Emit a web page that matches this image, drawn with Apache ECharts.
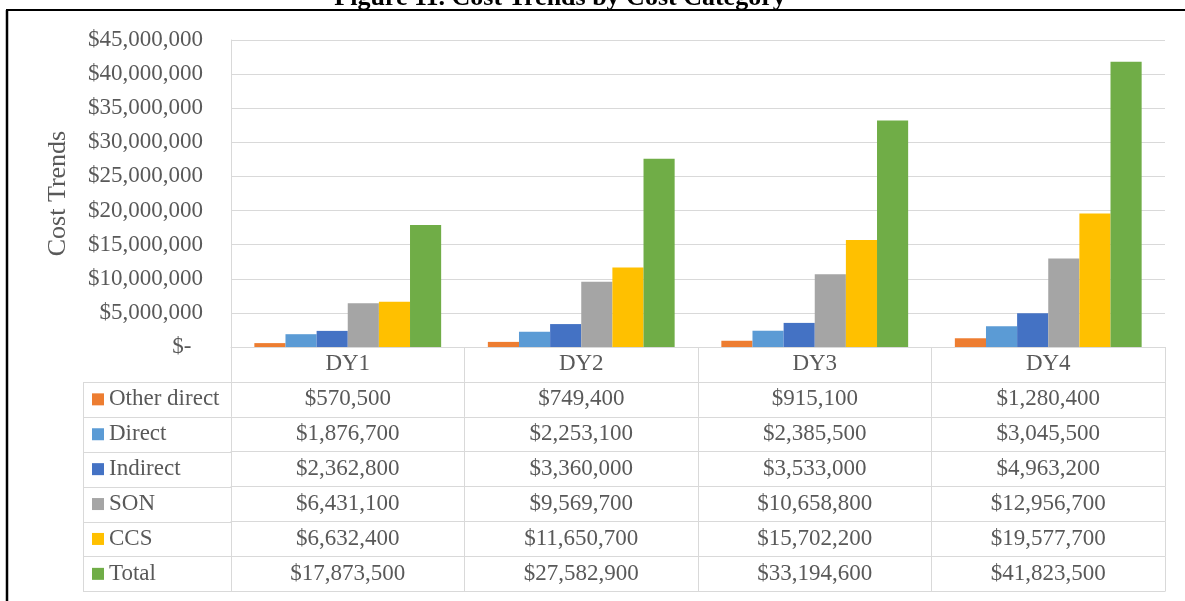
<!DOCTYPE html>
<html>
<head>
    <meta charset="UTF-8">
    <title>Cost Trends by Cost Category</title>
    <script src="https://cdn.jsdelivr.net/npm/echarts@6/dist/echarts.min.js"></script>
    <style>
        html, body { margin: 0; padding: 0; background: #fff; }
    </style>
</head>
<body>
<div id="chart" style="width:1185px; height:601px;"></div>
<script>
    // data
    var categories = ['DY1', 'DY2', 'DY3', 'DY4'];
    var seriesNames = ['Other direct', 'Direct', 'Indirect', 'SON', 'CCS', 'Total'];
    var otherDirect = [570500, 749400, 915100, 1280400];
    var direct = [1876700, 2253100, 2385500, 3045500];
    var indirect = [2362800, 3360000, 3533000, 4963200];
    var son = [6431100, 9569700, 10658800, 12956700];
    var ccs = [6632400, 11650700, 15702200, 19577700];
    var total = [17873500, 27582900, 33194600, 41823500];
    var yMin = 0, yMax = 45000000, yStep = 5000000;

    var seriesData = [otherDirect, direct, indirect, son, ccs, total];
    var colors = ['#ED7D31', '#5B9BD5', '#4472C4', '#A5A5A5', '#FFC000', '#70AD47'];

    // layout
    var GRID_LEFT = 231, GRID_RIGHT = 1165, GRID_TOP = 40, AXIS_Y = 347;
    var ROW_H = 34.9, TABLE_LEFT = 83;
    var FONT = 'Liberation Serif';
    var FS = 23;
    var GREY = '#595959', LINE = '#d9d9d9';

    function money(v) {
        if (v === 0) return '$-  ';
        return '$' + v.toLocaleString('en-US');
    }

    var labelStyle = {
        fontFamily: FONT, fontSize: FS, lineHeight: FS, color: GREY,
        margin: (ROW_H - FS) / 2, interval: 0
    };

    // main category axis + one axis per table row
    var xAxes = [{
        type: 'category',
        data: categories,
        axisLine: {lineStyle: {color: LINE, width: 1}},
        axisTick: {show: true, interval: 0, length: ROW_H, lineStyle: {color: LINE}},
        axisLabel: labelStyle
    }];
    seriesData.forEach(function (arr, i) {
        xAxes.push({
            type: 'category',
            gridIndex: 0,
            position: 'bottom',
            offset: ROW_H * (i + 1),
            data: arr.map(money),
            axisLine: {show: true, lineStyle: {color: LINE, width: 1}},
            axisTick: {show: true, interval: 0, length: ROW_H, lineStyle: {color: LINE}},
            axisLabel: labelStyle
        });
    });
    // closing line under the table
    xAxes.push({
        type: 'category',
        gridIndex: 0,
        position: 'bottom',
        offset: ROW_H * (seriesData.length + 1),
        data: categories.map(function () { return ''; }),
        axisLine: {show: true, lineStyle: {color: LINE, width: 1}},
        axisTick: {show: false},
        axisLabel: {show: false}
    });

    // left column borders of the data table
    var graphics = [];
    for (var k = 1; k <= seriesData.length + 1; k++) {
        var yy = Math.round(AXIS_Y + ROW_H * k) + 0.5;
        graphics.push({
            type: 'line', silent: true,
            shape: {x1: TABLE_LEFT, y1: yy, x2: GRID_LEFT, y2: yy},
            style: {stroke: LINE, lineWidth: 1}
        });
    }
    graphics.push({
        type: 'line', silent: true,
        shape: {
            x1: TABLE_LEFT + 0.5, y1: Math.round(AXIS_Y + ROW_H) + 0.5,
            x2: TABLE_LEFT + 0.5, y2: Math.round(AXIS_Y + ROW_H * 7) + 0.5
        },
        style: {stroke: LINE, lineWidth: 1}
    });
    // page frame and clipped caption
    graphics.push({
        type: 'line', silent: true,
        shape: {x1: 6, y1: 10, x2: 1185, y2: 10},
        style: {stroke: '#000', lineWidth: 2}
    });
    graphics.push({
        type: 'line', silent: true,
        shape: {x1: 7, y1: 10, x2: 7, y2: 601},
        style: {stroke: '#000', lineWidth: 2.5}
    });
    graphics.push({
        type: 'text', silent: true,
        x: 560, y: 11,
        style: {
            text: 'Figure 11. Cost Trends by Cost Category',
            fontFamily: FONT, fontSize: 26, fontWeight: 'bold', fill: '#000',
            align: 'center', verticalAlign: 'bottom'
        }
    });

    var chart = echarts.init(document.getElementById('chart'), null, {renderer: 'canvas'});
    var option = {
        animation: false,
        backgroundColor: '#fff',
        color: colors,
        grid: {
            left: GRID_LEFT,
            right: 1185 - GRID_RIGHT,
            top: GRID_TOP,
            bottom: 601 - AXIS_Y,
            containLabel: false
        },
        legend: {
            orient: 'vertical',
            left: 92,
            top: AXIS_Y + ROW_H + (ROW_H - FS) / 2,
            padding: 0,
            itemGap: ROW_H - FS,
            itemWidth: 12,
            itemHeight: 12,
            icon: 'rect',
            selectedMode: false,
            data: seriesNames,
            textStyle: {fontFamily: FONT, fontSize: FS, lineHeight: FS, color: GREY, padding: 0}
        },
        xAxis: xAxes,
        yAxis: {
            type: 'value',
            min: yMin,
            max: yMax,
            interval: yStep,
            name: 'Cost Trends',
            nameLocation: 'middle',
            nameGap: 160,
            nameTextStyle: {fontFamily: FONT, fontSize: 26, color: GREY},
            axisLine: {show: true, lineStyle: {color: LINE, width: 1}},
            axisTick: {show: false},
            splitLine: {lineStyle: {color: LINE, width: 1}},
            axisLabel: {
                fontFamily: FONT, fontSize: FS, color: GREY, margin: 28,
                formatter: money
            }
        },
        graphic: graphics,
        series: seriesNames.map(function (name, i) {
            return {
                name: name,
                type: 'bar',
                data: seriesData[i],
                barGap: '0%',
                barCategoryGap: '20%',
                itemStyle: {color: colors[i]}
            };
        })
    };
    chart.setOption(option);
</script>
</body>
</html>
